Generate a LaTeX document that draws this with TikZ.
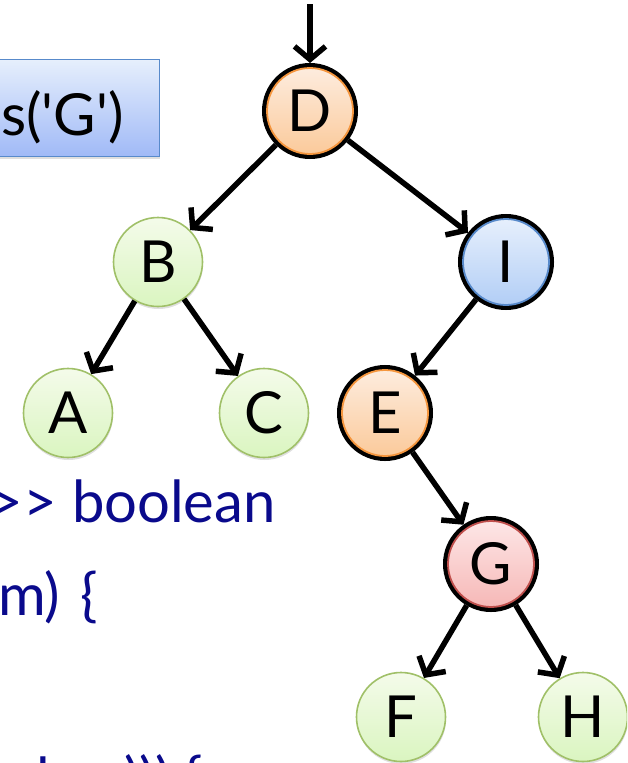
\documentclass[tikz,border=0pt]{standalone}
\usepackage{fontspec}
\setmainfont{Lato}
\usetikzlibrary{arrows.meta,shadows}

\definecolor{codeblue}{RGB}{10,10,140}
\definecolor{leafline}{RGB}{160,192,104}
\definecolor{leaftop}{RGB}{244,251,234}
\definecolor{leafbot}{RGB}{218,245,192}
\definecolor{orangeline}{RGB}{245,150,62}
\definecolor{orangetop}{RGB}{253,236,222}
\definecolor{orangebot}{RGB}{251,202,155}
\definecolor{blueline}{RGB}{88,138,203}
\definecolor{bluetop}{RGB}{230,239,252}
\definecolor{bluebot}{RGB}{178,206,246}
\definecolor{redline}{RGB}{192,80,77}
\definecolor{redtop}{RGB}{253,230,230}
\definecolor{redbot}{RGB}{246,184,183}

\begin{document}
\begin{tikzpicture}[x=1pt, y=-1pt,
            every node/.style = {font=\fontsize{58}{60}\selectfont},
            softshadow/.style = {drop shadow={shadow xshift=.5pt, shadow yshift=-2.5pt, opacity=.25}},
            leafnode/.style = {circle, minimum size=89pt, inner sep=0pt,
                                 softshadow, draw=leafline, line width=1.6pt,
                                 top color=leaftop, bottom color=leafbot},
            ringnode/.style = {circle, minimum size=86pt, inner sep=0pt, outer sep=5pt,
                                 softshadow, preaction={draw=black, line width=10pt},
                                 line width=1.8pt},
            orangenode/.style = {ringnode, draw=orangeline, top color=orangetop, bottom color=orangebot},
            bluenode/.style = {ringnode, draw=blueline, top color=bluetop, bottom color=bluebot},
            rednode/.style = {ringnode, draw=redline, top color=redtop, bottom color=redbot},
            querybox/.style = {rectangle, minimum height=97pt, inner xsep=36pt,
                                 text height=60pt, text depth=6pt, softshadow,
                                 draw=blueline, line width=1pt,
                                 top color=bluetop, bottom color=bluebot!90!blue},
            code/.style = {text=codeblue, inner sep=0pt},
            treelink/.style = {line width=5.5pt, -{Straight Barb[length=13pt,width=31pt]}}]
	\useasboundingbox (0,0) rectangle (627,763);
	\clip (0,0) rectangle (627,763);
	% query and code
	\node[querybox, anchor=east] (query) at (160,108) {s(\textquotesingle G\textquotesingle)};
	\node[code, anchor=base east] (sig) at (276,522) {>{}> boolean};
	\node[code, anchor=base west] (body) at (-2,615) {m)\hspace{20pt}\{};
	\node[code, anchor=base west] (cond1) at (36,799) {l};
	\node[code, anchor=base west] (cond2) at (124,799) {))) \{};
	% tree
	\node[orangenode] (D) at (310,111) {D};
	\node[leafnode] (B) at (158,262) {B};
	\node[bluenode] (I) at (506,262) {I};
	\node[leafnode] (A) at (68,413) {A};
	\node[leafnode] (C) at (264,413) {C};
	\node[orangenode] (E) at (385,413) {E};
	\node[rednode] (G) at (491,564) {G};
	\node[leafnode] (F) at (401,717) {F};
	\node[leafnode] (H) at (583,717) {H};
	\coordinate (start) at (310,4);
	\draw[treelink] (start) -- (D);
	\draw[treelink] (D) -- (B);
	\draw[treelink] (D) -- (I);
	\draw[treelink] (B) -- (A);
	\draw[treelink] (B) -- (C);
	\draw[treelink] (I) -- (E);
	\draw[treelink] (E) -- (G);
	\draw[treelink] (G) -- (F);
	\draw[treelink] (G) -- (H);
\end{tikzpicture}
\end{document}
